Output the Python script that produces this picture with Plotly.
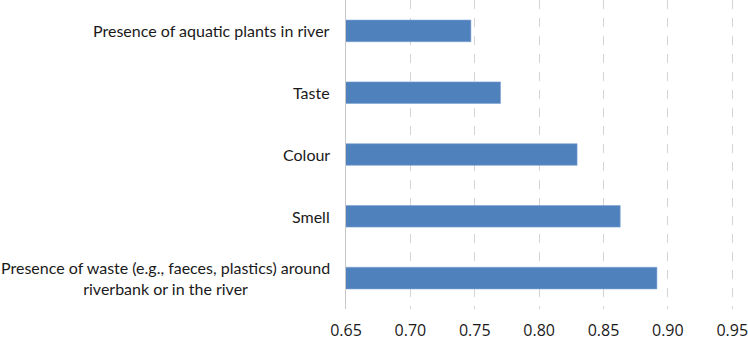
import plotly.graph_objects as go

categories = [
    "Presence of aquatic plants in river",
    "Taste",
    "Colour",
    "Smell",
    "Presence of waste (e.g., faeces, plastics) around<br>riverbank or in the river",
]
values = [0.747, 0.770, 0.8295, 0.863, 0.8915]
tick_vals = [0.65, 0.70, 0.75, 0.80, 0.85, 0.90, 0.95]
tick_text = ["0.65", "0.70", "0.75", "0.80", "0.85", "0.90", "0.95"]

fig = go.Figure()
fig.add_trace(go.Bar(
    x=values, y=categories, orientation="h", base=0,
    marker=dict(color="#4F81BD", line=dict(color="#7da3d3", width=0.6)),
    width=0.35, hoverinfo="skip",
))

for c in categories:
    fig.add_annotation(
        x=0, xref="paper", y=c, yref="y", text=c, showarrow=False,
        xanchor="right", yanchor="middle", align="center", xshift=-14,
        font=dict(family="Lato, 'Open Sans', sans-serif", size=16, color="#1a1a1a"),
    )

fig.update_layout(
    width=748, height=341,
    margin=dict(l=346, r=0, t=0, b=27),
    paper_bgcolor="white", plot_bgcolor="white",
    showlegend=False,
    bargap=0.65,
)
fig.update_xaxes(
    range=[0.65, 0.9607], tickvals=tick_vals, ticktext=tick_text,
    showgrid=True, gridcolor="#d4d4d4", griddash="dash", gridwidth=1,
    zeroline=False, showline=False, ticks="", ticklabelstandoff=10,
    ticklabeloverflow="allow",
    tickfont=dict(family="'Open Sans', sans-serif", size=16, color="#1a1a1a"),
)
fig.update_yaxes(
    categoryorder="array", categoryarray=categories, autorange="reversed",
    showticklabels=False, showgrid=False, zeroline=False,
    showline=True, linecolor="#c8c8c8", linewidth=1, ticks="",
)
fig.write_html(
    "out.html",
    config={"displayModeBar": False},
    post_script="document.body.style.margin='0';document.body.style.overflow='hidden';",
)
